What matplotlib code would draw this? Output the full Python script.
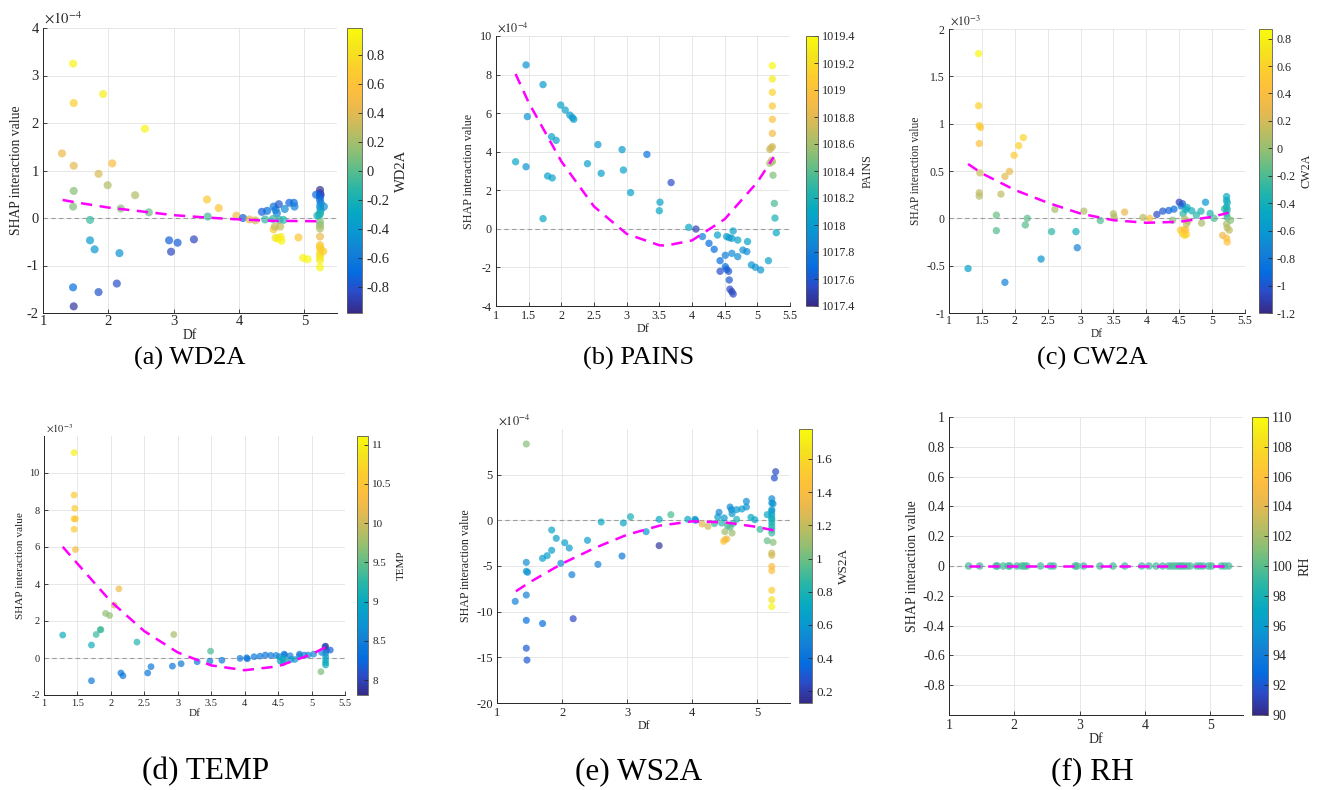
import numpy as np
import matplotlib
matplotlib.use("Agg")
import matplotlib.pyplot as plt
from matplotlib.colors import LinearSegmentedColormap, Normalize
from matplotlib.cm import ScalarMappable

plt.rcParams['font.family'] = ['Liberation Serif', 'DejaVu Serif']
plt.rcParams['mathtext.fontset'] = 'stix'
plt.rcParams['axes.unicode_minus'] = False

# ---------------------------------------------------------------- data
# (a) WD2A  -- SHAP values in units of 1e-4
WD2A_DF = [1.46, 1.47, 1.92, 2.56, 1.29, 1.47, 2.06, 1.85, 1.99, 2.41, 1.47, 1.46, 2.19, 2.62,
           1.72, 1.72, 1.79, 2.17, 1.46, 1.47, 1.85, 2.13, 2.93, 3.06, 2.96, 3.31, 3.51, 3.69,
           3.52, 3.96, 4.06, 4.16, 4.25, 4.35, 4.43, 4.40, 4.53, 4.56, 4.61, 4.58, 4.70, 4.77,
           4.84, 4.85, 4.52, 4.62, 4.68, 4.53, 4.55, 4.63, 4.56, 4.60, 4.64, 4.65, 4.91, 4.98,
           5.05, 5.24, 5.24, 5.25, 5.24, 5.24, 5.25, 5.24, 5.25, 5.24, 5.23, 5.24, 5.24, 5.24,
           5.24, 5.24, 5.24, 5.25, 5.24, 5.24, 5.24, 5.24, 5.18, 5.20, 5.30, 5.29]
WD2A_SHAP = [3.25, 2.42, 2.61, 1.88, 1.36, 1.10, 1.15, 0.93, 0.69, 0.48, 0.57, 0.24, 0.20, 0.12,
             -0.04, -0.47, -0.66, -0.74, -1.46, -1.86, -1.56, -1.38, -0.47, -0.52, -0.71, -0.45,
             0.39, 0.21, 0.03, 0.05, 0.00, -0.03, -0.05, 0.13, 0.15, -0.03, 0.24, 0.17, 0.29,
             0.10, 0.19, 0.32, 0.32, 0.24, -0.02, -0.04, -0.04, -0.24, -0.18, -0.18, -0.42,
             -0.43, -0.40, -0.48, -0.41, -0.84, -0.87, 0.59, 0.52, 0.49, 0.45, 0.38, 0.31, 0.24,
             0.17, 0.10, 0.06, -0.08, -0.15, -0.22, -0.39, -0.57, -0.62, -0.68, -0.75, -0.82,
             -0.89, -1.04, 0.49, 0.05, 0.24, -0.70]
WD2A_VAL = [0.95, 0.72, 0.92, 0.95, 0.45, 0.42, 0.55, 0.38, 0.25, 0.25, 0.12, 0.10, 0.12, 0.05,
            -0.08, -0.38, -0.42, -0.45, -0.68, -0.92, -0.80, -0.82, -0.75, -0.75, -0.85, -0.85,
            0.68, 0.62, -0.05, 0.50, -0.75, 0.40, 0.38, -0.75, -0.70, -0.10, -0.65, -0.60,
            -0.78, -0.55, -0.50, -0.72, -0.70, -0.55, -0.10, -0.10, -0.15, 0.65, 0.30, 0.30,
            0.85, 0.90, 0.88, 0.95, 0.65, 0.95, 0.97, -0.95, -0.90, -0.85, -0.80, -0.65, -0.60,
            -0.45, -0.40, -0.25, -0.15, 0.10, 0.15, 0.20, 0.45, 0.65, 0.68, 0.72, 0.78, 0.82,
            0.90, 0.97, -0.70, -0.20, -0.45, 0.70]
WD2A_FIT_X = [1.30, 1.5, 2.0, 2.5, 3.0, 3.5, 4.0, 4.5, 5.0, 5.25]
WD2A_FIT_Y = [0.38, 0.33, 0.22, 0.14, 0.06, 0.01, -0.03, -0.06, -0.065, -0.07]
WD2A_CB_TICKS = [-0.8, -0.6, -0.4, -0.2, 0, 0.2, 0.4, 0.6, 0.8]

# (b) PAINS  -- SHAP values in units of 1e-4
PAINS_DF = [1.46, 1.72, 1.48, 1.30, 1.46, 1.72, 1.79, 1.86, 1.85, 1.92, 1.99, 2.06, 2.13, 2.17,
            2.19, 2.40, 2.56, 2.61, 2.93, 2.95, 3.06, 3.31, 3.51, 3.50, 3.68, 3.95, 4.06, 4.16,
            4.26, 4.34, 4.39, 4.43, 4.43, 4.51, 4.51, 4.53, 4.56, 4.57, 4.58, 4.61, 4.63, 4.53,
            4.57, 4.61, 4.63, 4.61, 4.70, 4.70, 4.78, 4.84, 4.85, 4.91, 4.97, 5.05, 5.17, 5.23,
            5.23, 5.23, 5.23, 5.23, 5.23, 5.23, 5.19, 5.19, 5.23, 5.24, 5.26, 5.27, 5.29, 5.21,
            5.22]
PAINS_SHAP = [8.50, 7.48, 5.82, 3.48, 3.22, 0.53, 2.74, 2.64, 4.78, 4.59, 6.42, 6.16, 5.90, 5.77,
              5.68, 3.38, 4.37, 2.88, 4.11, 3.05, 1.88, 3.86, 1.38, 0.94, 2.40, 0.08, -0.01,
              -0.40, -0.75, -1.06, -0.32, -1.65, -2.20, -1.37, -1.96, -2.10, -2.20, -2.65, -3.13,
              -3.26, -3.38, -0.40, -0.46, -0.49, -0.11, -1.27, -0.58, -1.44, -1.10, -1.18, -0.66,
              -1.87, -1.99, -2.13, -1.65, 8.46, 7.77, 7.08, 6.37, 5.68, 4.95, 4.26, 4.12, 3.40,
              3.48, 2.78, 1.32, 0.56, -0.20, 4.20, 3.55]
PAINS_VAL = [1017.95, 1018.0, 1017.95, 1018.1, 1017.95, 1018.1, 1018.05, 1018.05, 1018.05,
             1018.05, 1018.05, 1018.05, 1018.0, 1018.0, 1018.0, 1018.05, 1018.0, 1018.05, 1018.0,
             1018.05, 1018.05, 1017.72, 1018.05, 1018.1, 1017.55, 1018.1, 1017.5, 1017.8, 1017.7,
             1017.7, 1018.05, 1017.7, 1017.55, 1017.8, 1017.7, 1017.65, 1017.6, 1017.6, 1017.55,
             1017.5, 1017.55, 1018.0, 1018.0, 1018.0, 1018.05, 1017.9, 1018.05, 1017.9, 1017.9,
             1017.9, 1018.05, 1017.95, 1017.95, 1017.95, 1018.05, 1019.4, 1019.3, 1019.15,
             1019.05, 1019.0, 1018.9, 1018.75, 1018.7, 1018.6, 1018.6, 1018.5, 1018.35, 1018.2,
             1018.1, 1018.75, 1018.65]
PAINS_FIT_X = [1.30, 1.5, 2.0, 2.5, 3.0, 3.5, 3.6, 4.0, 4.5, 5.0, 5.25]
PAINS_FIT_Y = [8.03, 6.55, 3.50, 1.16, -0.26, -0.85, -0.87, -0.60, 0.50, 2.42, 3.72]
PAINS_CB_TICKS = [1017.4, 1017.6, 1017.8, 1018, 1018.2, 1018.4, 1018.6, 1018.8, 1019, 1019.2, 1019.4]

# (c) CW2A  -- SHAP values in units of 1e-3
CW2A_DF = [1.45, 1.45, 1.46, 1.48, 1.46, 1.47, 1.46, 1.46, 1.29, 1.72, 1.72, 1.79, 1.85, 1.92,
           1.85, 1.99, 2.06, 2.13, 2.16, 2.19, 2.40, 2.56, 2.61, 2.93, 2.95, 3.05, 3.30, 3.50,
           3.51, 3.67, 3.95, 4.05, 4.16, 4.25, 4.34, 4.42, 4.50, 4.53, 4.55, 4.40, 4.56, 4.60,
           4.69, 4.62, 4.76, 4.83, 4.90, 4.97, 5.03, 4.84, 4.58, 4.52, 4.55, 4.58, 4.61, 4.57,
           4.60, 4.61, 4.63, 5.22, 5.22, 5.23, 5.22, 5.23, 5.22, 5.23, 5.19, 5.22, 5.23, 5.26,
           5.28, 5.16, 5.22, 5.23]
CW2A_SHAP = [1.74, 1.19, 0.98, 0.96, 0.79, 0.48, 0.27, 0.235, -0.53, 0.034, -0.13, 0.256, 0.443,
             0.496, -0.676, 0.666, 0.768, 0.853, -0.07, 0.0, -0.43, -0.14, 0.094, -0.14, -0.31,
             0.076, -0.023, 0.048, 0.013, 0.066, 0.009, 0.0, 0.041, 0.076, 0.083, 0.097, 0.17,
             0.13, 0.154, -0.02, 0.05, 0.093, 0.08, 0.115, 0.034, 0.076, 0.17, 0.051, 0.0, -0.05,
             -0.006, -0.125, -0.16, -0.18, -0.17, -0.12, -0.12, -0.06, -0.03, 0.23, 0.19, 0.165,
             0.12, 0.09, 0.05, 0.01, 0.10, -0.06, -0.10, -0.125, -0.02, -0.18, -0.21, -0.25]
CW2A_VAL = [0.85, 0.58, 0.55, 0.52, 0.45, 0.18, 0.12, 0.10, -0.55, -0.12, -0.18, 0.12, 0.25, 0.30,
            -0.75, 0.55, 0.60, 0.62, -0.18, -0.15, -0.65, -0.30, 0.05, -0.40, -0.75, 0.08, -0.20,
            0.10, 0.08, 0.28, 0.10, 0.45, -1.05, -1.0, -0.95, -0.9, -1.1, -0.8, -1.0, -0.05,
            -0.30, -0.40, -0.40, -0.45, -0.30, -0.35, -0.60, -0.35, -0.20, 0.05, 0.05, 0.55,
            0.58, 0.62, 0.60, 0.50, 0.45, 0.15, 0.10, -0.45, -0.45, -0.42, -0.40, -0.38, -0.30,
            -0.25, -0.35, 0.05, 0.10, 0.12, -0.05, 0.30, 0.42, 0.45]
CW2A_FIT_X = [1.29, 1.5, 2.0, 2.5, 3.0, 3.5, 4.0, 4.5, 5.0, 5.25]
CW2A_FIT_Y = [0.574, 0.475, 0.30, 0.165, 0.05, -0.02, -0.047, -0.037, 0.016, 0.059]
CW2A_CB_TICKS = [-1.2, -1, -0.8, -0.6, -0.4, -0.2, 0, 0.2, 0.4, 0.6, 0.8]

# (d) TEMP  -- SHAP values in units of 1e-3
TEMP_DF = [1.45, 1.45, 1.46, 1.45, 1.47, 1.45, 1.47, 1.28, 1.71, 1.71, 1.78, 1.84, 1.85, 1.92,
           1.98, 2.05, 2.12, 2.15, 2.18, 2.39, 2.55, 2.60, 2.94, 2.92, 3.05, 3.29, 3.48, 3.49,
           3.66, 3.93, 4.03, 4.04, 4.14, 4.23, 4.31, 4.39, 4.47, 4.52, 4.59, 4.60, 4.57, 4.53,
           4.57, 4.60, 4.68, 4.69, 4.75, 4.82, 4.82, 4.89, 4.95, 5.03, 5.14, 5.20, 5.21, 5.22,
           5.28, 5.21, 5.21, 5.21, 5.21, 5.21, 5.15]
TEMP_SHAP = [11.10, 8.81, 8.09, 7.52, 7.52, 6.96, 5.86, 1.24, 0.70, -1.23, 1.27, 1.53, 1.53,
             2.41, 2.30, 2.86, 3.74, -0.81, -0.96, 0.86, -0.81, -0.47, 1.27, -0.44, -0.31,
             -0.20, -0.17, 0.37, -0.12, -0.02, 0.01, -0.04, 0.07, 0.10, 0.16, 0.14, 0.14, 0.07,
             0.21, 0.16, -0.02, -0.15, -0.26, -0.15, 0.12, -0.08, -0.08, 0.21, 0.12, 0.16, 0.16,
             0.21, -0.74, 0.61, 0.64, 0.43, 0.43, 0.25, 0.07, -0.11, -0.26, -0.38, 0.30]
TEMP_VAL = [11.0, 10.6, 10.6, 10.55, 10.55, 10.6, 10.3, 9.05, 9.05, 8.4, 9.3, 9.35, 9.35, 9.7,
            9.7, 10.0, 10.25, 8.4, 8.4, 9.2, 8.4, 8.45, 9.8, 8.4, 8.45, 8.45, 8.5, 9.4, 8.45,
            8.45, 8.4, 8.4, 8.45, 8.45, 8.4, 8.45, 8.5, 8.6, 8.4, 8.45, 9.0, 9.0, 8.9, 9.05,
            8.5, 8.8, 8.75, 8.45, 8.5, 8.55, 8.6, 8.6, 9.6, 8.4, 7.9, 8.0, 8.2, 8.5, 8.8, 9.0,
            9.0, 9.05, 8.6]
TEMP_FIT_X = [1.28, 1.5, 2.0, 2.5, 3.0, 3.5, 4.0, 4.5, 5.0, 5.25]
TEMP_FIT_Y = [6.01, 5.10, 3.05, 1.45, 0.30, -0.40, -0.66, -0.45, 0.20, 0.66]
TEMP_CB_TICKS = [8, 8.5, 9, 9.5, 10, 10.5, 11]

# (e) WS2A  -- SHAP values in units of 1e-4
WS2A_DF = [1.45, 1.45, 1.45, 1.47, 1.45, 1.45, 1.45, 1.46, 1.28, 1.70, 1.70, 1.77, 1.84, 1.84,
           1.91, 1.98, 2.04, 2.11, 2.15, 2.17, 2.39, 2.55, 2.60, 2.92, 2.94, 3.05, 3.29, 3.49,
           3.49, 3.67, 3.93, 4.04, 4.05, 4.15, 4.24, 4.34, 4.39, 4.41, 4.45, 4.49, 4.50, 4.48,
           4.50, 4.53, 4.54, 4.58, 4.60, 4.61, 4.58, 4.61, 4.62, 4.68, 4.68, 4.76, 4.83, 4.83,
           4.90, 4.96, 5.04, 5.15, 5.28, 5.26, 5.22, 5.22, 5.24, 5.22, 5.22, 5.22, 5.22, 5.22,
           5.22, 5.22, 5.22, 5.22, 5.15, 5.24, 5.22, 5.22, 5.22, 5.22, 5.22, 5.22, 5.22]
WS2A_SHAP = [8.36, -4.60, -5.58, -5.69, -8.18, -10.95, -14.0, -15.3, -8.87, -11.3, -4.16, -3.87,
             -1.06, -3.28, -1.97, -4.71, -2.45, -3.03, -5.95, -10.77, -2.19, -4.82, -0.18, -3.91,
             -0.29, 0.40, -1.24, 0.11, -2.77, 0.62, 0.11, 0.11, 0.0, -0.40, -0.66, -0.36, 0.36,
             0.88, -0.29, 0.26, -1.24, -2.30, -2.12, -2.04, -0.58, 1.46, 1.17, 0.73, -0.77,
             -1.39, -0.36, 0.11, 1.17, 1.24, 2.08, 1.46, 0.33, 0.07, -0.99, -2.23, 5.33, 4.64,
             2.37, 1.90, 1.82, 1.17, 0.99, 0.62, 0.26, 0.07, -0.29, -0.66, -1.02, -1.39, 0.62,
             -2.41, -3.58, -3.83, -5.04, -5.51, -7.66, -8.69, -9.45]
WS2A_VAL = [1.05, 0.55, 0.60, 0.58, 0.48, 0.38, 0.30, 0.30, 0.48, 0.38, 0.62, 0.65, 0.70, 0.62,
            0.65, 0.55, 0.65, 0.62, 0.48, 0.25, 0.65, 0.50, 0.72, 0.45, 0.70, 0.78, 0.60, 0.72,
            0.18, 0.92, 0.72, 0.60, 0.58, 1.30, 1.22, 0.90, 0.65, 0.52, 0.85, 0.60, 1.10, 1.50,
            1.40, 1.38, 0.90, 0.55, 0.55, 0.60, 0.95, 1.10, 0.90, 0.80, 0.62, 0.62, 0.55, 0.58,
            0.72, 0.70, 0.88, 0.98, 0.25, 0.28, 0.55, 0.58, 0.58, 0.62, 0.62, 0.68, 0.72, 0.75,
            0.78, 0.80, 0.85, 0.88, 0.70, 1.05, 1.22, 1.25, 1.40, 1.42, 1.55, 1.65, 1.75]
WS2A_FIT_X = [1.29, 1.5, 2.0, 2.5, 3.0, 3.5, 4.0, 4.5, 5.0, 5.25]
WS2A_FIT_Y = [-7.77, -6.79, -4.74, -3.03, -1.57, -0.58, -0.11, -0.22, -0.73, -1.09]
WS2A_CB_TICKS = [0.2, 0.4, 0.6, 0.8, 1, 1.2, 1.4, 1.6]

# (f) RH  -- all interaction values are zero
RH_DF = [1.30, 1.47, 1.72, 1.74, 1.83, 1.91, 1.93, 2.04, 2.11, 2.15, 2.19, 2.40, 2.55, 2.60,
         2.93, 2.96, 3.06, 3.31, 3.51, 3.69, 3.95, 4.06, 4.17, 4.27, 4.36, 4.41, 4.46, 4.51,
         4.55, 4.59, 4.64, 4.69, 4.79, 4.84, 4.89, 4.97, 5.02, 5.17, 5.22, 5.28]
RH_SHAP = [0.0] * len(RH_DF)
RH_VAL = [99.3] * len(RH_DF)
RH_FIT_X = [1.30, 5.28]
RH_FIT_Y = [0.0, 0.0]
RH_CB_TICKS = [90, 92, 94, 96, 98, 100, 102, 104, 106, 108, 110]

# ---------------------------------------------------------------- colormap (parula)
PARULA_RGB = [
    (0.2081, 0.1663, 0.5292), (0.1707, 0.2919, 0.7792), (0.0165, 0.4266, 0.8786),
    (0.0779, 0.5040, 0.8384), (0.0343, 0.5966, 0.8199), (0.0267, 0.6642, 0.7607),
    (0.1453, 0.7098, 0.6646), (0.3482, 0.7424, 0.5473), (0.5709, 0.7485, 0.4494),
    (0.7525, 0.7384, 0.3768), (0.9139, 0.7258, 0.3063), (0.9938, 0.7455, 0.2403),
    (0.9880, 0.8066, 0.1794), (0.9589, 0.8949, 0.1132), (0.9763, 0.9831, 0.0538)]
parula = LinearSegmentedColormap.from_list('parula', PARULA_RGB, N=256)

# ---------------------------------------------------------------- layout helpers
W, H = 1320, 790


def box(x0, y0, x1, y1):
    return [x0 / W, 1 - y1 / H, (x1 - x0) / W, (y1 - y0) / H]


def fmt(v):
    return f"{round(float(v), 6) + 0.0:g}"


TXT = '0.15'

panels = [
    dict(df=WD2A_DF, shap=WD2A_SHAP, val=WD2A_VAL, fx=WD2A_FIT_X, fy=WD2A_FIT_Y,
         cbt=WD2A_CB_TICKS, vlim=(-0.98, 0.99), name='WD2A', cap='(a) WD2A',
         ax=box(43, 28, 337, 313), cb=box(347, 28, 362, 313), cap_xy=(190, 358), capfs=19,
         ylim=(-2, 4), yt=np.arange(-2, 4.01, 1), xt=np.arange(1, 5.01, 1),
         exp=r'$\times10^{-4}$', fs=10.5, lfs=9.8, cfs=10.5, s=34, xpad=1.5),
    dict(df=PAINS_DF, shap=PAINS_SHAP, val=PAINS_VAL, fx=PAINS_FIT_X, fy=PAINS_FIT_Y,
         cbt=PAINS_CB_TICKS, vlim=(1017.4, 1019.4), name='PAINS', cap='(b) PAINS',
         ax=box(496, 36, 790, 306), cb=box(806, 36, 818, 306), cap_xy=(639, 358), capfs=19,
         ylim=(-4, 10), yt=np.arange(-4, 10.01, 2), xt=np.arange(1, 5.51, 0.5),
         exp=r'$\times10^{-4}$', fs=8.7, lfs=8.7, cfs=8.7, s=28, xpad=3),
    dict(df=CW2A_DF, shap=CW2A_SHAP, val=CW2A_VAL, fx=CW2A_FIT_X, fy=CW2A_FIT_Y,
         cbt=CW2A_CB_TICKS, vlim=(-1.2, 0.87), name='CW2A', cap='(c) CW2A',
         ax=box(949, 29, 1245, 313), cb=box(1259, 29, 1272, 313), cap_xy=(1092, 358), capfs=19,
         ylim=(-1, 2), yt=np.arange(-1, 2.01, 0.5), xt=np.arange(1, 5.51, 0.5),
         exp=r'$\times10^{-3}$', fs=8.5, lfs=8.3, cfs=8.7, s=28, xpad=1.5),
    dict(df=TEMP_DF, shap=TEMP_SHAP, val=TEMP_VAL, fx=TEMP_FIT_X, fy=TEMP_FIT_Y,
         cbt=TEMP_CB_TICKS, vlim=(7.81, 11.11), name='TEMP', cap='(d) TEMP',
         ax=box(44, 436, 345, 695), cb=box(357, 436, 368, 695), cap_xy=(206, 772), capfs=22.5,
         ylim=(-2, 12), yt=np.arange(-2, 10.01, 2), xt=np.arange(1, 5.51, 0.5),
         exp=r'$\times10^{-3}$', fs=7.5, lfs=8.1, cfs=8.0, s=24, xpad=3),
    dict(df=WS2A_DF, shap=WS2A_SHAP, val=WS2A_VAL, fx=WS2A_FIT_X, fy=WS2A_FIT_Y,
         cbt=WS2A_CB_TICKS, vlim=(0.13, 1.78), name='WS2A', cap='(e) WS2A',
         ax=box(497, 429, 790, 703), cb=box(799, 429, 812, 703), cap_xy=(639, 772), capfs=22.5,
         ylim=(-20, 10), yt=np.arange(-20, 5.01, 5), xt=np.arange(1, 5.01, 1),
         exp=r'$\times10^{-4}$', fs=9.0, lfs=8.6, cfs=9.5, s=26, xpad=3),
    dict(df=RH_DF, shap=RH_SHAP, val=RH_VAL, fx=RH_FIT_X, fy=RH_FIT_Y,
         cbt=RH_CB_TICKS, vlim=(90, 110), name='RH', cap='(f) RH',
         ax=box(949, 417, 1243, 715), cb=box(1252, 417, 1268, 715), cap_xy=(1092, 772), capfs=22.5,
         ylim=(-1, 1), yt=np.arange(-0.8, 1.01, 0.2), xt=np.arange(1, 5.01, 1),
         exp=None, fs=10.0, lfs=10.0, cfs=10.0, s=30, xpad=3),
]

fig = plt.figure(figsize=(13.2, 7.9), dpi=100)

for p in panels:
    ax = fig.add_axes(p['ax'])
    norm = Normalize(*p['vlim'])
    ax.set_axisbelow(True)
    ax.grid(True, color='0.89', lw=0.6)
    ax.axhline(0, color='0.62', lw=0.8, ls=(0, (4, 3)), zorder=2)
    ax.scatter(p['df'], p['shap'], c=p['val'], cmap=parula, norm=norm, s=p['s'],
               alpha=0.7, edgecolors='none', zorder=3)
    ax.plot(p['fx'], p['fy'], color='#FF00FF', lw=1.8, ls=(0, (4.5, 3)), zorder=4)

    ax.set_xlim(1, 5.5)
    ax.set_ylim(*p['ylim'])
    ax.set_xticks(p['xt'])
    ax.set_yticks(p['yt'])
    ax.set_xticklabels([fmt(v) for v in p['xt']])
    ax.set_yticklabels([fmt(v) for v in p['yt']])
    for side in ('top', 'right'):
        ax.spines[side].set_visible(False)
    for side in ('left', 'bottom'):
        ax.spines[side].set_color(TXT)
        ax.spines[side].set_linewidth(0.7)
    ax.tick_params(direction='in', length=3, width=0.6, colors=TXT,
                   labelsize=p['fs'], pad=3)
    ax.tick_params(axis='x', pad=p['xpad'])
    ax.set_xlabel('Df', fontsize=p['lfs'], color=TXT, labelpad=0.5)
    ax.set_ylabel('SHAP interaction value', fontsize=p['lfs'], color=TXT, labelpad=3)
    if p['exp']:
        ax.text(0.005, 1.005, p['exp'], transform=ax.transAxes, ha='left', va='bottom',
                fontsize=p['fs'], color=TXT)

    cax = fig.add_axes(p['cb'])
    sm = ScalarMappable(norm=norm, cmap=parula)
    cb = fig.colorbar(sm, cax=cax)
    cb.set_ticks(p['cbt'])
    cb.set_ticklabels([fmt(v) for v in p['cbt']])
    cb.outline.set_linewidth(0.6)
    cb.outline.set_edgecolor('0.35')
    cb.ax.tick_params(direction='in', length=3, width=0.6, colors=TXT,
                      labelsize=p['cfs'], pad=3)
    cb.set_label(p['name'], fontsize=p['cfs'], color=TXT, rotation=90, labelpad=4)

    fig.text(p['cap_xy'][0] / W, 1 - p['cap_xy'][1] / H, p['cap'], ha='center',
             va='center', fontsize=p['capfs'], color='black')

fig.savefig('out.png', dpi=100, facecolor='white')
